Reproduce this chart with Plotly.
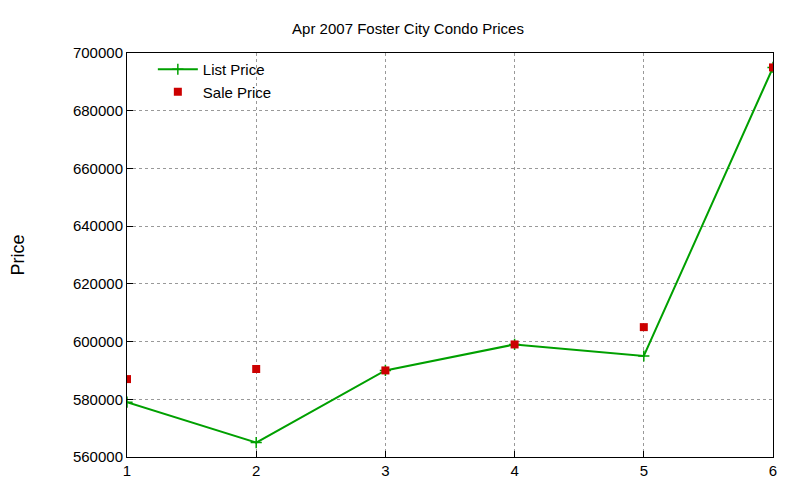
import plotly.graph_objects as go

x_vals = [1, 2, 3, 4, 5, 6]
list_price = [579000, 565000, 590000, 599000, 595000, 695000]
sale_price = [587000, 590500, 590000, 599000, 605000, 695000]
y_ticks = [560000, 580000, 600000, 620000, 640000, 660000, 680000, 700000]

fig = go.Figure()
fig.add_trace(go.Scatter(x=x_vals, y=list_price, mode="lines+markers", name="List Price",
                         line=dict(color="#00a000", width=2),
                         marker=dict(symbol="cross-thin", size=8, line=dict(color="#00a000", width=1.5))))
fig.add_trace(go.Scatter(x=x_vals, y=sale_price, mode="markers", name="Sale Price",
                         marker=dict(symbol="square", size=8, color="#cc0000")))

axis_common = dict(showgrid=True, gridcolor="#999999", griddash="dot", gridwidth=1,
                   showline=True, linecolor="black", linewidth=1, mirror=True,
                   ticks="inside", ticklen=6, tickcolor="black", zeroline=False,
                   automargin=False,
                   tickfont=dict(family="Liberation Sans, Arial", size=15, color="black"))

fig.update_layout(
    width=800, height=480, plot_bgcolor="white", paper_bgcolor="white",
    margin=dict(l=119, r=35, t=45, b=31),
    title=dict(text="Apr 2007 Foster City Condo Prices", x=0.5, xanchor="center",
               yref="container", y=1 - 21 / 480, yanchor="middle",
               font=dict(family="Liberation Sans, Arial", size=15, color="black")),
    font=dict(family="Liberation Sans, Arial", size=15, color="black"),
    xaxis=dict(range=[1, 6], tickvals=x_vals, **axis_common),
    yaxis=dict(range=[560000, 700000], tickvals=y_ticks, tickformat="d",
               title=dict(text="Price", standoff=55), **axis_common),
    legend=dict(x=0.04, y=1.0, xanchor="left", yanchor="top", bgcolor="rgba(0,0,0,0)",
                font=dict(size=15), tracegroupgap=0, itemwidth=40),
    showlegend=True,
)
fig.write_html("out.html")
